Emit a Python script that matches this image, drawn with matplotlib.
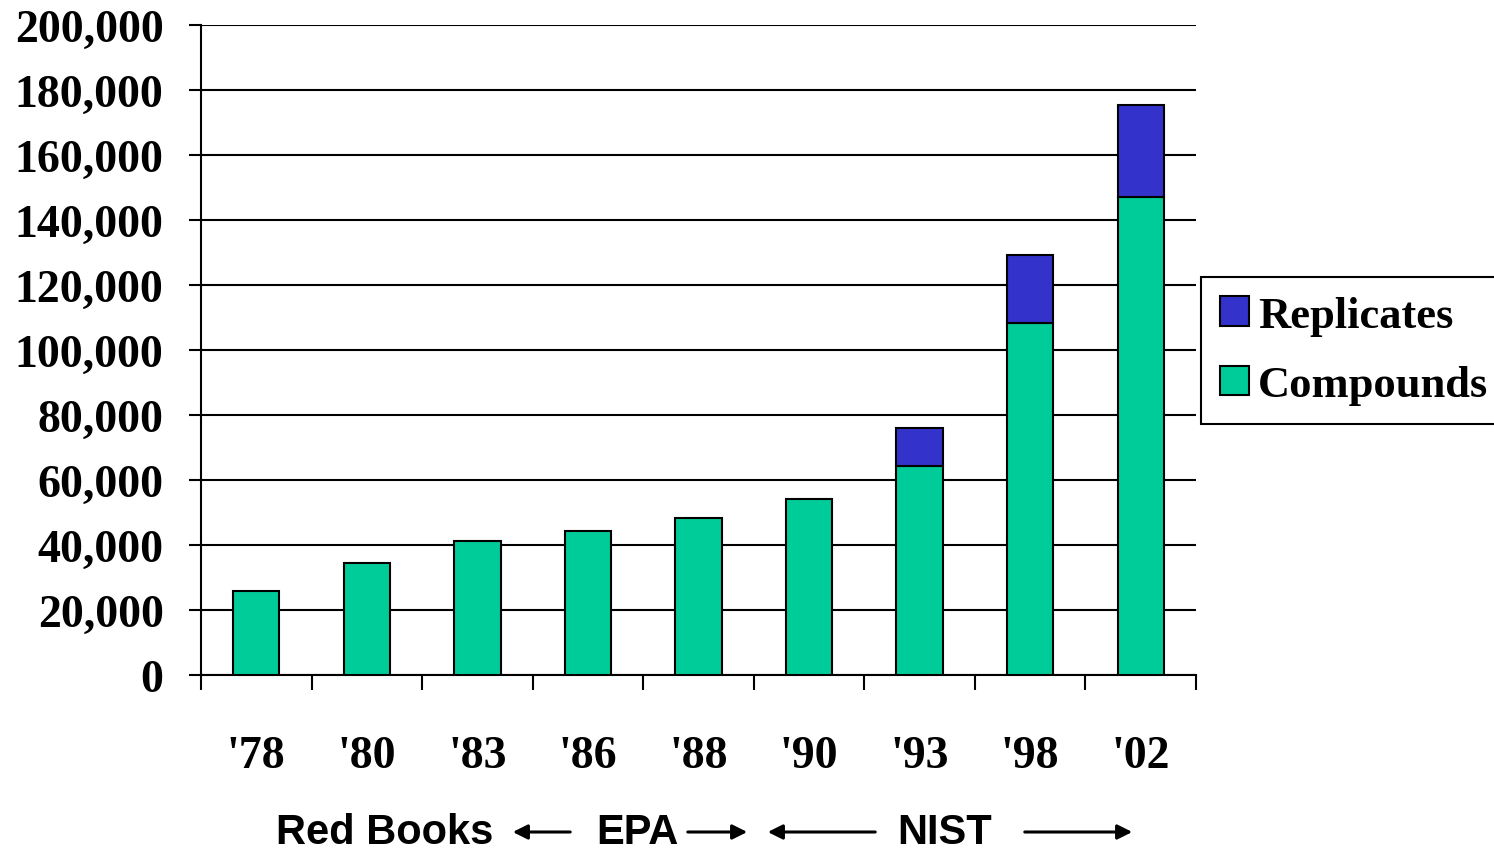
import matplotlib
matplotlib.use("Agg")
import matplotlib.pyplot as plt
import numpy as np
from matplotlib.ticker import FuncFormatter, FixedLocator
from matplotlib.patches import Patch, FancyArrowPatch

years = ["'78", "'80", "'83", "'86", "'88", "'90", "'93", "'98", "'02"]
compounds = [25800, 34500, 41200, 44300, 48300, 54200, 64300, 108300, 147000]
replicates = [0, 0, 0, 0, 0, 0, 11700, 20900, 28400]
yticks = [0, 20000, 40000, 60000, 80000, 100000, 120000, 140000, 160000, 180000, 200000]

GREEN = "#00CC99"
BLUE = "#3333CC"

fig = plt.figure(figsize=(14.94, 8.54), dpi=100)
W, H = 1494, 854
ax = fig.add_axes([201 / W, 1 - 676 / H, (1196 - 201) / W, (676 - 26) / H])

x = np.arange(len(years))
bw = 0.42
b1 = ax.bar(x, compounds, width=bw, color=GREEN, edgecolor="black", linewidth=1.5, zorder=3)
b2 = ax.bar(x, replicates, width=bw, bottom=compounds, color=BLUE, edgecolor="black", linewidth=1.5, zorder=3)
for r, v in zip(b2, replicates):
    if v == 0:
        r.set_visible(False)

ax.set_xlim(-0.5, len(years) - 0.5)
ax.set_ylim(0, 200000)
ax.set_yticks(yticks)
ax.yaxis.set_major_formatter(FuncFormatter(lambda v, p: f"{int(v):,}"))
ax.grid(axis="y", color="black", linewidth=1.5, zorder=0)
ax.set_axisbelow(True)

for s in ["top", "right"]:
    ax.spines[s].set_visible(False)
ax.spines["left"].set_linewidth(1.5)
ax.spines["bottom"].set_linewidth(1.5)

serif = {"family": "Liberation Serif", "weight": "bold", "size": 33}
ax.set_xticks(x)
ax.set_xticklabels(years, fontdict=serif)
ax.xaxis.set_minor_locator(FixedLocator(np.arange(-0.5, len(years), 1.0)))
ax.tick_params(axis="x", which="major", length=0, pad=43)
ax.tick_params(axis="x", which="minor", length=11, width=1.5, direction="out")
ax.tick_params(axis="y", length=9, width=1.5, pad=18)
for lbl in ax.get_yticklabels():
    lbl.set_fontfamily("Liberation Serif")
    lbl.set_fontweight("bold")
    lbl.set_fontsize(33)

h_rep = Patch(facecolor=BLUE, edgecolor="black", linewidth=1.5)
h_cmp = Patch(facecolor=GREEN, edgecolor="black", linewidth=1.5)
leg = fig.legend(handles=[h_rep, h_cmp], labels=["Replicates", "Compounds"],
                 loc="upper left", bbox_to_anchor=(1201 / W, 1 - 278 / H),
                 prop={"family": "Liberation Serif", "weight": "bold", "size": 32},
                 frameon=True, fancybox=False, edgecolor="black", framealpha=1,
                 handlelength=0.65, handleheight=0.65, handletextpad=0.22,
                 labelspacing=0.66, borderpad=0.42, borderaxespad=0)
leg.get_frame().set_linewidth(1.5)

sans = {"family": "Liberation Sans", "weight": "bold", "size": 30}
yb = 1 - 833 / H
fig.text(385 / W, yb, "Red Books", ha="center", va="center", fontdict=sans)
fig.text(637 / W, yb, "EPA", ha="center", va="center", fontdict=sans)
fig.text(945 / W, yb, "NIST", ha="center", va="center", fontdict=sans)

def arrow(x0, x1):
    fig.add_artist(FancyArrowPatch(
        (x0 / W, yb), (x1 / W, yb), transform=fig.transFigure,
        arrowstyle="-|>", mutation_scale=22, linewidth=2.2, color="black"))

arrow(573, 510)
arrow(685, 750)
arrow(878, 765)
arrow(1022, 1135)

fig.savefig("out.png", dpi=100)
